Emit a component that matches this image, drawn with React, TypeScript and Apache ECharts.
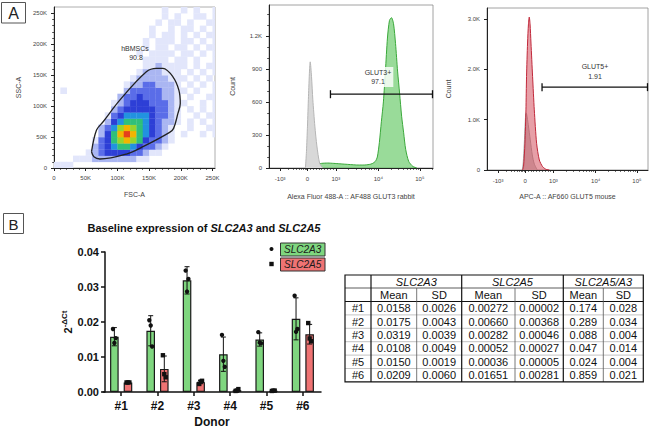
import React, { useEffect, useRef } from 'react';
import * as echarts from 'echarts';

const FONT = '"Liberation Sans", Arial, Helvetica, sans-serif';

// ---------------- Panel A (left): FSC-A vs SSC-A density, 10K bins, level 0-9 ----------------
const BIN = 10000;
// row index = SSC bin (0 = 0-10K), column index = FSC bin (0 = 0-10K)
const DENSITY_ROWS = [
  '11100000000000000000000000',
  '00011122222221100000000000',
  '00000123444433211000000000',
  '00000023456654332100000000',
  '00000013467876433210000000',
  '00000002468986543210100101',
  '00000002357876543210010011',
  '00000000245666543221010101',
  '00000000134555543321001011',
  '00000000023444443321010101',
  '00000000012344433321100101',
  '00000000002334333221010011',
  '01000000000233333221101001',
  '00000000000122332221010101',
  '00000000000012222211101010',
  '00000000000001222111010101',
  '00000000000000112111101011',
  '00000000000000111101101001',
  '00000000000001011110110101',
  '00000000000000101101101011',
  '00000000000000101110110101',
  '00000000000000010110101011',
  '00000000000000010010110101',
  '00000000000000001011010011',
  '00000000000000000101001101',
  '00000000000000000100101001',
];
const DENSITY_COLORS = ['', '#e2e6fb', '#aab6f2', '#5a6de8', '#2d3fd6', '#2292e0', '#2fc07a', '#98d42c', '#f2b400', '#e5401c'];
const GATE_FSC = [59200, 67100, 77500, 103800, 145700, 161400, 171900, 187600, 197000, 199200, 195500, 188700, 182400, 140400, 114300, 72300, 62900, 59200];
const GATE_SSC = [26300, 61300, 74700, 109700, 155300, 160800, 160800, 147300, 125800, 104300, 88200, 64000, 57600, 34400, 22600, 14500, 18200, 26300];
const SCATTER_TICKS = [0, 50000, 100000, 150000, 200000, 250000];

// ---------------- Panel A (middle/right): histograms on a logicle display scale ----------------
const LOGICLE_TICK_POS = [-27, 0, 28, 70, 111];
const LOGICLE_TICK_LABELS = ['-10³', '0', '10³', '10⁴', '10⁵'];

const GLUT3_X = [2, 5, 9, 14, 20, 26, 32, 38, 44, 50, 56, 61, 64, 67, 69, 71, 73, 75, 77, 79, 81, 83, 85, 87, 89, 91, 93, 95, 97, 100, 104, 108];
const GLUT3_Y = [0, 15, 32, 42, 45, 42, 38, 34, 30, 27, 27, 32, 40, 60, 100, 230, 420, 600, 880, 1180, 1340, 1365, 1310, 1130, 880, 680, 470, 320, 170, 60, 15, 0];
const ISO3_X = [-2, -1, 0, 1, 2, 2.7, 4, 5.3, 7.3, 9.3, 12, 15];
const ISO3_Y = [0, 150, 380, 650, 880, 964, 830, 620, 380, 200, 45, 0];
const GATE3 = [22.7, 124, 670];

const GLUT5_X = [-2.7, -1.7, -0.3, 0.7, 1.3, 2.3, 3.2, 4, 4.8, 5.7, 7.3, 9, 11.3, 14, 17.3, 20.7, 24];
const GLUT5_Y = [0, 66, 531, 1195, 1859, 2524, 2900, 3040, 2900, 2524, 1859, 1195, 531, 199, 66, 13, 0];
const ISO5_X = [-3, -2, -1, 0, 0.7, 1.5, 3, 5, 7, 9, 12];
const ISO5_Y = [0, 150, 500, 950, 1135, 1100, 900, 600, 300, 120, 0];
const GATE5 = [16.7, 122, 1647];

// ---------------- Panel B: qPCR ----------------
const DONORS = ['#1', '#2', '#3', '#4', '#5', '#6'];
const A3_MEAN = [0.0158, 0.0175, 0.0319, 0.0108, 0.0150, 0.0209];
const A3_SD = [0.0026, 0.0043, 0.0039, 0.0049, 0.0019, 0.0060];
const A5_MEAN = [0.00272, 0.00660, 0.00282, 0.00052, 0.00036, 0.01651];
const A5_SD = [0.00002, 0.00368, 0.00046, 0.00027, 0.00005, 0.00281];
const RATIO_MEAN = [0.174, 0.289, 0.088, 0.047, 0.024, 0.859];
const RATIO_SD = [0.028, 0.034, 0.004, 0.014, 0.004, 0.021];
const A3_REPS = [[0.0180, 0.0140, 0.0154], [0.0205, 0.0190, 0.0130], [0.0347, 0.0287, 0.0323], [0.0163, 0.0089, 0.0072], [0.0171, 0.0141, 0.0139], [0.0275, 0.0172, 0.0180]];
const A5_REPS = [[0.00270, 0.00272, 0.00274], [0.0105, 0.0051, 0.0042], [0.0023, 0.0030, 0.0032], [0.0003, 0.0004, 0.00083], [0.0003, 0.00038, 0.0004], [0.0197, 0.0153, 0.0145]];

// layout constants
const BAR_W = 8.6;
const BAR_GAP_PX = 5;
const BAR_OFFSET = (BAR_W + BAR_GAP_PX) / 2;
const GREEN = '#7fd67f';
const RED = '#ef7373';
const TABLE_COLS = [345, 371, 416.7, 461.7, 515, 563.3, 603.3, 643.3];
const TABLE_ROWS_Y = [275, 288, 301.5, 314.9, 328.3, 341.7, 355.1, 368.5, 381.9];

const kFmt = (v: number) => (v === 0 ? '0' : `${Math.round(v / 1000)}K`);
const cFmt = (v: number) => (v >= 1000 ? `${(v / 1000).toFixed(1)}K` : String(v));

function range(a: number, b: number, step: number) {
  const out: number[] = [];
  for (let v = a; v <= b + 1e-9; v += step) out.push(v);
  return out;
}

function logicleMinor(max: number) {
  const out: number[] = [];
  for (let k = 1; k <= 8; k++) out.push(-27 * (1 - Math.log10(10 - k)));
  for (let k = 1; k <= 9; k++) out.push(k * 2.8);
  for (let k = 2; k <= 9; k++) out.push(28 + Math.log10(k) * 42);
  for (let k = 2; k <= 9; k++) out.push(70 + Math.log10(k) * 41);
  for (let k = 2; k <= 9; k++) {
    const v = 111 + Math.log10(k) * 41;
    if (v <= max) out.push(v);
  }
  return out;
}

const tickLabel = { fontSize: 6, color: '#444', fontFamily: FONT };
const axisNameStyle = { fontSize: 7, color: '#444', fontFamily: FONT };
const lineDark = { color: '#222', width: 1 };

function mainAxis(extra: any) {
  return {
    type: 'value',
    axisLine: { show: true, onZero: false, lineStyle: lineDark },
    splitLine: { show: false },
    nameLocation: 'middle',
    nameTextStyle: axisNameStyle,
    ...extra,
  };
}
function minorAxis(extra: any, values: number[]) {
  return {
    type: 'value',
    axisLine: { show: false, onZero: false },
    axisLabel: { show: false },
    splitLine: { show: false },
    axisTick: { show: true, customValues: values, length: 1.8, lineStyle: { color: '#222', width: 0.8 } },
    ...extra,
  };
}

function histSeries(xs: number[], ys: number[], ax: number, line: string, fill: string, z: number) {
  return {
    type: 'line',
    xAxisIndex: ax,
    yAxisIndex: ax,
    data: xs.map((x, i) => [x, ys[i]]),
    showSymbol: false,
    smooth: 0.25,
    lineStyle: { color: line, width: 1 },
    areaStyle: { color: fill, opacity: 1 },
    z,
  };
}

function gateSeries(g: number[], ax: number) {
  return {
    type: 'custom',
    xAxisIndex: ax,
    yAxisIndex: ax,
    data: [g],
    z: 6,
    renderItem: (_p: any, api: any) => {
      const a = api.coord([api.value(0), api.value(2)]);
      const b = api.coord([api.value(1), api.value(2)]);
      const st = { stroke: '#111', lineWidth: 1.3 };
      return {
        type: 'group',
        children: [
          { type: 'line', shape: { x1: a[0], y1: a[1], x2: b[0], y2: b[1] }, style: st },
          { type: 'line', shape: { x1: a[0], y1: a[1] - 4, x2: a[0], y2: a[1] + 4 }, style: st },
          { type: 'line', shape: { x1: b[0] - 0.5, y1: b[1] - 4, x2: b[0] - 0.5, y2: b[1] + 4 }, style: st },
        ],
      };
    },
  };
}

function errorSeries(means: number[], sds: number[], sign: number) {
  return {
    type: 'custom',
    xAxisIndex: 6,
    yAxisIndex: 5,
    z: 5,
    data: means.map((m, i) => [i, m, sds[i]]),
    renderItem: (_p: any, api: any) => {
      const i = api.value(0), m = api.value(1), s = api.value(2);
      const c = api.coord([i, m]);
      const x = c[0] + sign * BAR_OFFSET;
      const top = api.coord([i, m + s])[1];
      const bot = api.coord([i, Math.max(0, m - s)])[1];
      const st = { stroke: '#111', lineWidth: 1 };
      return {
        type: 'group',
        children: [
          { type: 'line', shape: { x1: x, y1: top, x2: x, y2: bot }, style: st },
          { type: 'line', shape: { x1: x - 2.5, y1: top, x2: x + 2.5, y2: top }, style: st },
          { type: 'line', shape: { x1: x - 2.5, y1: bot, x2: x + 2.5, y2: bot }, style: st },
        ],
      };
    },
  };
}

function pointSeries(reps: number[][], sign: number, square: boolean) {
  const data: number[][] = [];
  reps.forEach((r, i) => r.forEach((v, k) => data.push([i, v, k])));
  return {
    type: 'custom',
    xAxisIndex: 6,
    yAxisIndex: 5,
    z: 6,
    data,
    renderItem: (_p: any, api: any) => {
      const i = api.value(0), v = api.value(1), k = api.value(2);
      const c = api.coord([i, v]);
      const x = c[0] + sign * BAR_OFFSET + (k - 1) * 1.4;
      if (square) {
        return { type: 'rect', shape: { x: x - 2.2, y: c[1] - 2.2, width: 4.4, height: 4.4 }, style: { fill: '#111' } };
      }
      return { type: 'circle', shape: { cx: x, cy: c[1], r: 2.2 }, style: { fill: '#111' } };
    },
  };
}

function tableGraphics() {
  const els: any[] = [];
  const X = TABLE_COLS, Y = TABLE_ROWS_Y;
  const L = X[0], R = X[X.length - 1], T = Y[0], B = Y[Y.length - 1];
  const txt = (t: string, x: number, y: number, italic = false) => ({
    type: 'text',
    style: { text: t, x, y, align: 'center', verticalAlign: 'middle', fontSize: 11, fontFamily: FONT, fontStyle: italic ? 'italic' : 'normal', fill: '#111' },
  });
  const ln = (x1: number, y1: number, x2: number, y2: number, w: number, c: string) => ({
    type: 'line', shape: { x1, y1, x2, y2 }, style: { stroke: c, lineWidth: w },
  });
  for (let r = 3; r < Y.length - 1; r++) els.push(ln(L, Y[r], R, Y[r], 0.6, '#9a9a9a'));
  els.push(ln(L, Y[1], R, Y[1], 0.8, '#333'));
  els.push(ln(L, Y[2], R, Y[2], 1, '#111'));
  [2, 4, 6].forEach((c) => els.push(ln(X[c], Y[1], X[c], B, 0.8, '#555')));
  [1, 3, 5].forEach((c) => els.push(ln(X[c], T, X[c], B, 1.2, '#111')));
  els.push({ type: 'rect', shape: { x: L, y: T, width: R - L, height: B - T }, style: { fill: 'none', stroke: '#111', lineWidth: 1.2 } });
  const hy = (Y[0] + Y[1]) / 2;
  els.push(txt('SLC2A3', (X[1] + X[3]) / 2, hy, true));
  els.push(txt('SLC2A5', (X[3] + X[5]) / 2, hy, true));
  els.push(txt('SLC2A5/A3', (X[5] + X[7]) / 2, hy, true));
  const h2 = (Y[1] + Y[2]) / 2;
  ['Mean', 'SD', 'Mean', 'SD', 'Mean', 'SD'].forEach((t, i) => els.push(txt(t, (X[i + 1] + X[i + 2]) / 2, h2)));
  DONORS.forEach((d, r) => {
    const cy = (Y[r + 2] + Y[r + 3]) / 2;
    const vals = [
      d,
      A3_MEAN[r].toFixed(4), A3_SD[r].toFixed(4),
      A5_MEAN[r].toFixed(5), A5_SD[r].toFixed(5),
      RATIO_MEAN[r].toFixed(3), RATIO_SD[r].toFixed(3),
    ];
    vals.forEach((v, c) => els.push(txt(v, (X[c] + X[c + 1]) / 2, cy)));
  });
  return els;
}

function buildOption(): any {
  const densityData: number[][] = [];
  DENSITY_ROWS.forEach((row, r) => {
    for (let c = 0; c < row.length; c++) {
      const d = Number(row[c]);
      if (d > 0) densityData.push([c * BIN, r * BIN, d]);
    }
  });
  const scatterMinor = range(0, 250000, 10000).filter((v) => v % 50000 !== 0);

  const small = (t: string, x: number, y: number) => ({
    type: 'text',
    z: 50,
    style: { text: t, x, y, align: 'center', verticalAlign: 'middle', fontSize: 7, fontFamily: FONT, fill: '#333' },
  });

  const graphic: any[] = [
    { type: 'rect', shape: { x: 1.5, y: 2.5, width: 24, height: 20.5 }, style: { fill: 'none', stroke: '#555', lineWidth: 1 } },
    { type: 'text', style: { text: 'A', x: 13.5, y: 13, align: 'center', verticalAlign: 'middle', fontSize: 16, fontFamily: FONT, fill: '#222' } },
    { type: 'rect', shape: { x: 3.5, y: 213.5, width: 20, height: 20 }, style: { fill: 'none', stroke: '#555', lineWidth: 1 } },
    { type: 'text', style: { text: 'B', x: 13.5, y: 224, align: 'center', verticalAlign: 'middle', fontSize: 15, fontFamily: FONT, fill: '#222' } },
    small('hBMSCs', 135, 48), small('90.8', 136, 57),
    { type: 'text', z: 50, style: { text: 'GLUT3+\n97.1', x: 378, y: 77, align: 'center', verticalAlign: 'middle', fontSize: 7, lineHeight: 9, fontFamily: FONT, fill: '#333', backgroundColor: 'rgba(255,255,255,0.8)', padding: [1, 2] } },
    small('GLUT5+', 595, 66), small('1.91', 595, 76),
    {
      type: 'text',
      style: {
        text: '{b|Baseline expression of }{bi|SLC2A3}{b| and }{bi|SLC2A5}', x: 204, y: 228, align: 'center', verticalAlign: 'middle',
        rich: {
          b: { fontSize: 11, fontWeight: 'bold', fontFamily: FONT, fill: '#111' },
          bi: { fontSize: 11, fontWeight: 'bold', fontStyle: 'italic', fontFamily: FONT, fill: '#111' },
        },
      },
    },
    { type: 'circle', shape: { cx: 271.5, cy: 249, r: 2 }, style: { fill: '#111' } },
    { type: 'rect', shape: { x: 280.5, y: 243, width: 44.5, height: 13 }, style: { fill: GREEN, stroke: '#333', lineWidth: 1 } },
    { type: 'text', style: { text: 'SLC2A3', x: 302.7, y: 249.6, align: 'center', verticalAlign: 'middle', fontSize: 10, fontStyle: 'italic', fontFamily: FONT, fill: '#1a1a1a' } },
    { type: 'rect', shape: { x: 269.3, y: 261.8, width: 4.4, height: 4.4 }, style: { fill: '#111' } },
    { type: 'rect', shape: { x: 280.5, y: 258, width: 44.5, height: 13 }, style: { fill: RED, stroke: '#333', lineWidth: 1 } },
    { type: 'text', style: { text: 'SLC2A5', x: 302.7, y: 264.6, align: 'center', verticalAlign: 'middle', fontSize: 10, fontStyle: 'italic', fontFamily: FONT, fill: '#1a1a1a' } },
    ...tableGraphics(),
  ];

  return {
    animation: false,
    backgroundColor: '#fff',
    textStyle: { fontFamily: FONT },
    grid: [
      { left: 54, top: 7, width: 161, height: 161, show: true, borderColor: '#9a9a9a', borderWidth: 0.8 },
      { left: 269, top: 5, width: 164, height: 163, show: true, borderColor: '#8a8a8a', borderWidth: 0.8 },
      { left: 487, top: 8, width: 161, height: 162, show: true, borderColor: '#8a8a8a', borderWidth: 0.8 },
      { left: 103, top: 252, width: 218, height: 141 },
    ],
    xAxis: [
      mainAxis({
        gridIndex: 0, min: 0, max: 254000, position: 'bottom', name: 'FSC-A', nameGap: 23,
        axisTick: { show: true, customValues: SCATTER_TICKS, length: 3, lineStyle: lineDark },
        axisLabel: { customValues: SCATTER_TICKS, formatter: kFmt, margin: 7, ...tickLabel },
      }),
      minorAxis({ gridIndex: 0, min: 0, max: 254000, position: 'bottom' }, scatterMinor),
      mainAxis({
        gridIndex: 1, min: -38, max: 124, position: 'bottom', name: 'Alexa Fluor 488-A :: AF488 GLUT3 rabbit', nameGap: 25,
        axisTick: { show: true, customValues: LOGICLE_TICK_POS, length: 3, lineStyle: lineDark },
        axisLabel: { customValues: LOGICLE_TICK_POS, formatter: (v: number) => LOGICLE_TICK_LABELS[LOGICLE_TICK_POS.indexOf(v)] ?? '', margin: 8, ...tickLabel },
      }),
      minorAxis({ gridIndex: 1, min: -38, max: 124, position: 'bottom' }, logicleMinor(124)),
      mainAxis({
        gridIndex: 2, min: -38, max: 122, position: 'bottom', name: 'APC-A :: AF660 GLUT5 mouse', nameGap: 23,
        axisTick: { show: true, customValues: LOGICLE_TICK_POS, length: 3, lineStyle: lineDark },
        axisLabel: { customValues: LOGICLE_TICK_POS, formatter: (v: number) => LOGICLE_TICK_LABELS[LOGICLE_TICK_POS.indexOf(v)] ?? '', margin: 8, ...tickLabel },
      }),
      minorAxis({ gridIndex: 2, min: -38, max: 122, position: 'bottom' }, logicleMinor(122)),
      {
        gridIndex: 3, type: 'category', data: DONORS, position: 'bottom',
        axisLine: { show: true, onZero: false, lineStyle: { color: '#111', width: 1.5 } },
        axisTick: { show: true, alignWithLabel: true, length: 4, lineStyle: { color: '#111', width: 1.5 } },
        axisLabel: { fontSize: 12, fontWeight: 'bold', color: '#111', margin: 8, fontFamily: FONT },
        name: 'Donor', nameLocation: 'middle', nameGap: 24,
        nameTextStyle: { fontSize: 12, fontWeight: 'bold', color: '#111', fontFamily: FONT },
      },
    ],
    yAxis: [
      mainAxis({
        gridIndex: 0, min: 0, max: 260000, position: 'left', name: 'SSC-A', nameGap: 32,
        axisTick: { show: true, customValues: SCATTER_TICKS, length: 3, lineStyle: lineDark },
        axisLabel: { customValues: SCATTER_TICKS, formatter: kFmt, margin: 7, ...tickLabel },
      }),
      minorAxis({ gridIndex: 0, min: 0, max: 260000, position: 'left' }, scatterMinor),
      mainAxis({
        gridIndex: 1, min: 0, max: 1480, position: 'left', name: 'Count', nameGap: 33,
        axisTick: { show: true, customValues: [0, 300, 600, 900, 1200], length: 3, lineStyle: lineDark },
        axisLabel: { customValues: [0, 300, 600, 900, 1200], formatter: cFmt, margin: 7, ...tickLabel },
      }),
      minorAxis({ gridIndex: 1, min: 0, max: 1480, position: 'left' }, [100, 200, 400, 500, 700, 800, 1000, 1100, 1300, 1400]),
      mainAxis({
        gridIndex: 2, min: 0, max: 3220, position: 'left', name: 'Count', nameGap: 35,
        axisTick: { show: true, customValues: [0, 1000, 2000, 3000], length: 3, lineStyle: lineDark },
        axisLabel: { customValues: [0, 1000, 2000, 3000], formatter: cFmt, margin: 7, ...tickLabel },
      }),
      {
        gridIndex: 3, type: 'value', min: 0, max: 0.04, interval: 0.01, position: 'left', offset: -2,
        axisLine: { show: true, onZero: false, lineStyle: { color: '#111', width: 1.5 } },
        axisTick: { show: true, length: 4, lineStyle: { color: '#111', width: 1.5 } },
        axisLabel: { formatter: (v: number) => v.toFixed(2), fontSize: 11, fontWeight: 'bold', color: '#111', margin: 6, fontFamily: FONT },
        splitLine: { show: false },
        name: '{base|2}{sup|-ΔCt}', nameLocation: 'middle', nameGap: 30,
        nameTextStyle: {
          rich: {
            base: { fontSize: 11, fontWeight: 'bold', color: '#111', lineHeight: 15, fontFamily: FONT },
            sup: { fontSize: 8, fontWeight: 'bold', color: '#111', lineHeight: 8, verticalAlign: 'top', fontFamily: FONT },
          },
        },
      },
    ],
    series: [
      {
        type: 'custom',
        xAxisIndex: 0,
        yAxisIndex: 0,
        clip: true,
        data: densityData,
        z: 2,
        renderItem: (_p: any, api: any) => {
          const x = api.value(0), y = api.value(1), d = api.value(2);
          const p0 = api.coord([x, y + BIN]);
          const p1 = api.coord([x + BIN, y]);
          return { type: 'rect', shape: { x: p0[0], y: p0[1], width: p1[0] - p0[0] + 0.3, height: p1[1] - p0[1] + 0.3 }, style: { fill: DENSITY_COLORS[d] } };
        },
      },
      {
        type: 'line', xAxisIndex: 0, yAxisIndex: 0, z: 4,
        data: GATE_FSC.map((f, i) => [f, GATE_SSC[i]]),
        showSymbol: false, smooth: 0.35,
        lineStyle: { color: '#222', width: 1.3 },
      },
      histSeries(GLUT3_X, GLUT3_Y, 2, '#3aa83a', 'rgba(70,190,70,0.55)', 3),
      histSeries(ISO3_X, ISO3_Y, 2, '#b5b5b5', '#d8d8d8', 4),
      gateSeries(GATE3, 2),
      histSeries(ISO5_X, ISO5_Y, 4, '#a8a8a8', '#cdcdcd', 3),
      histSeries(GLUT5_X, GLUT5_Y, 4, '#c0283a', 'rgba(208,64,80,0.5)', 4),
      gateSeries(GATE5, 4),
      {
        type: 'bar', xAxisIndex: 6, yAxisIndex: 5, data: A3_MEAN, barWidth: BAR_W, barGap: `${(BAR_GAP_PX / BAR_W) * 100}%`,
        itemStyle: { color: GREEN, borderColor: '#1a1a1a', borderWidth: 1.2 }, z: 2,
      },
      {
        type: 'bar', xAxisIndex: 6, yAxisIndex: 5, data: A5_MEAN, barWidth: BAR_W,
        itemStyle: { color: RED, borderColor: '#1a1a1a', borderWidth: 1.2 }, z: 2,
      },
      errorSeries(A3_MEAN, A3_SD, -1),
      errorSeries(A5_MEAN, A5_SD, 1),
      pointSeries(A3_REPS, -1, false),
      pointSeries(A5_REPS, 1, true),
    ],
    graphic,
  };
}

export default function App() {
  const ref = useRef<HTMLDivElement>(null);
  useEffect(() => {
    const chart = echarts.init(ref.current as HTMLDivElement, null, { renderer: 'svg' });
    chart.setOption(buildOption());
    return () => chart.dispose();
  }, []);
  return <div ref={ref} style={{ position: 'absolute', left: 0, top: 0, width: 650, height: 429, background: '#fff' }} />;
}
